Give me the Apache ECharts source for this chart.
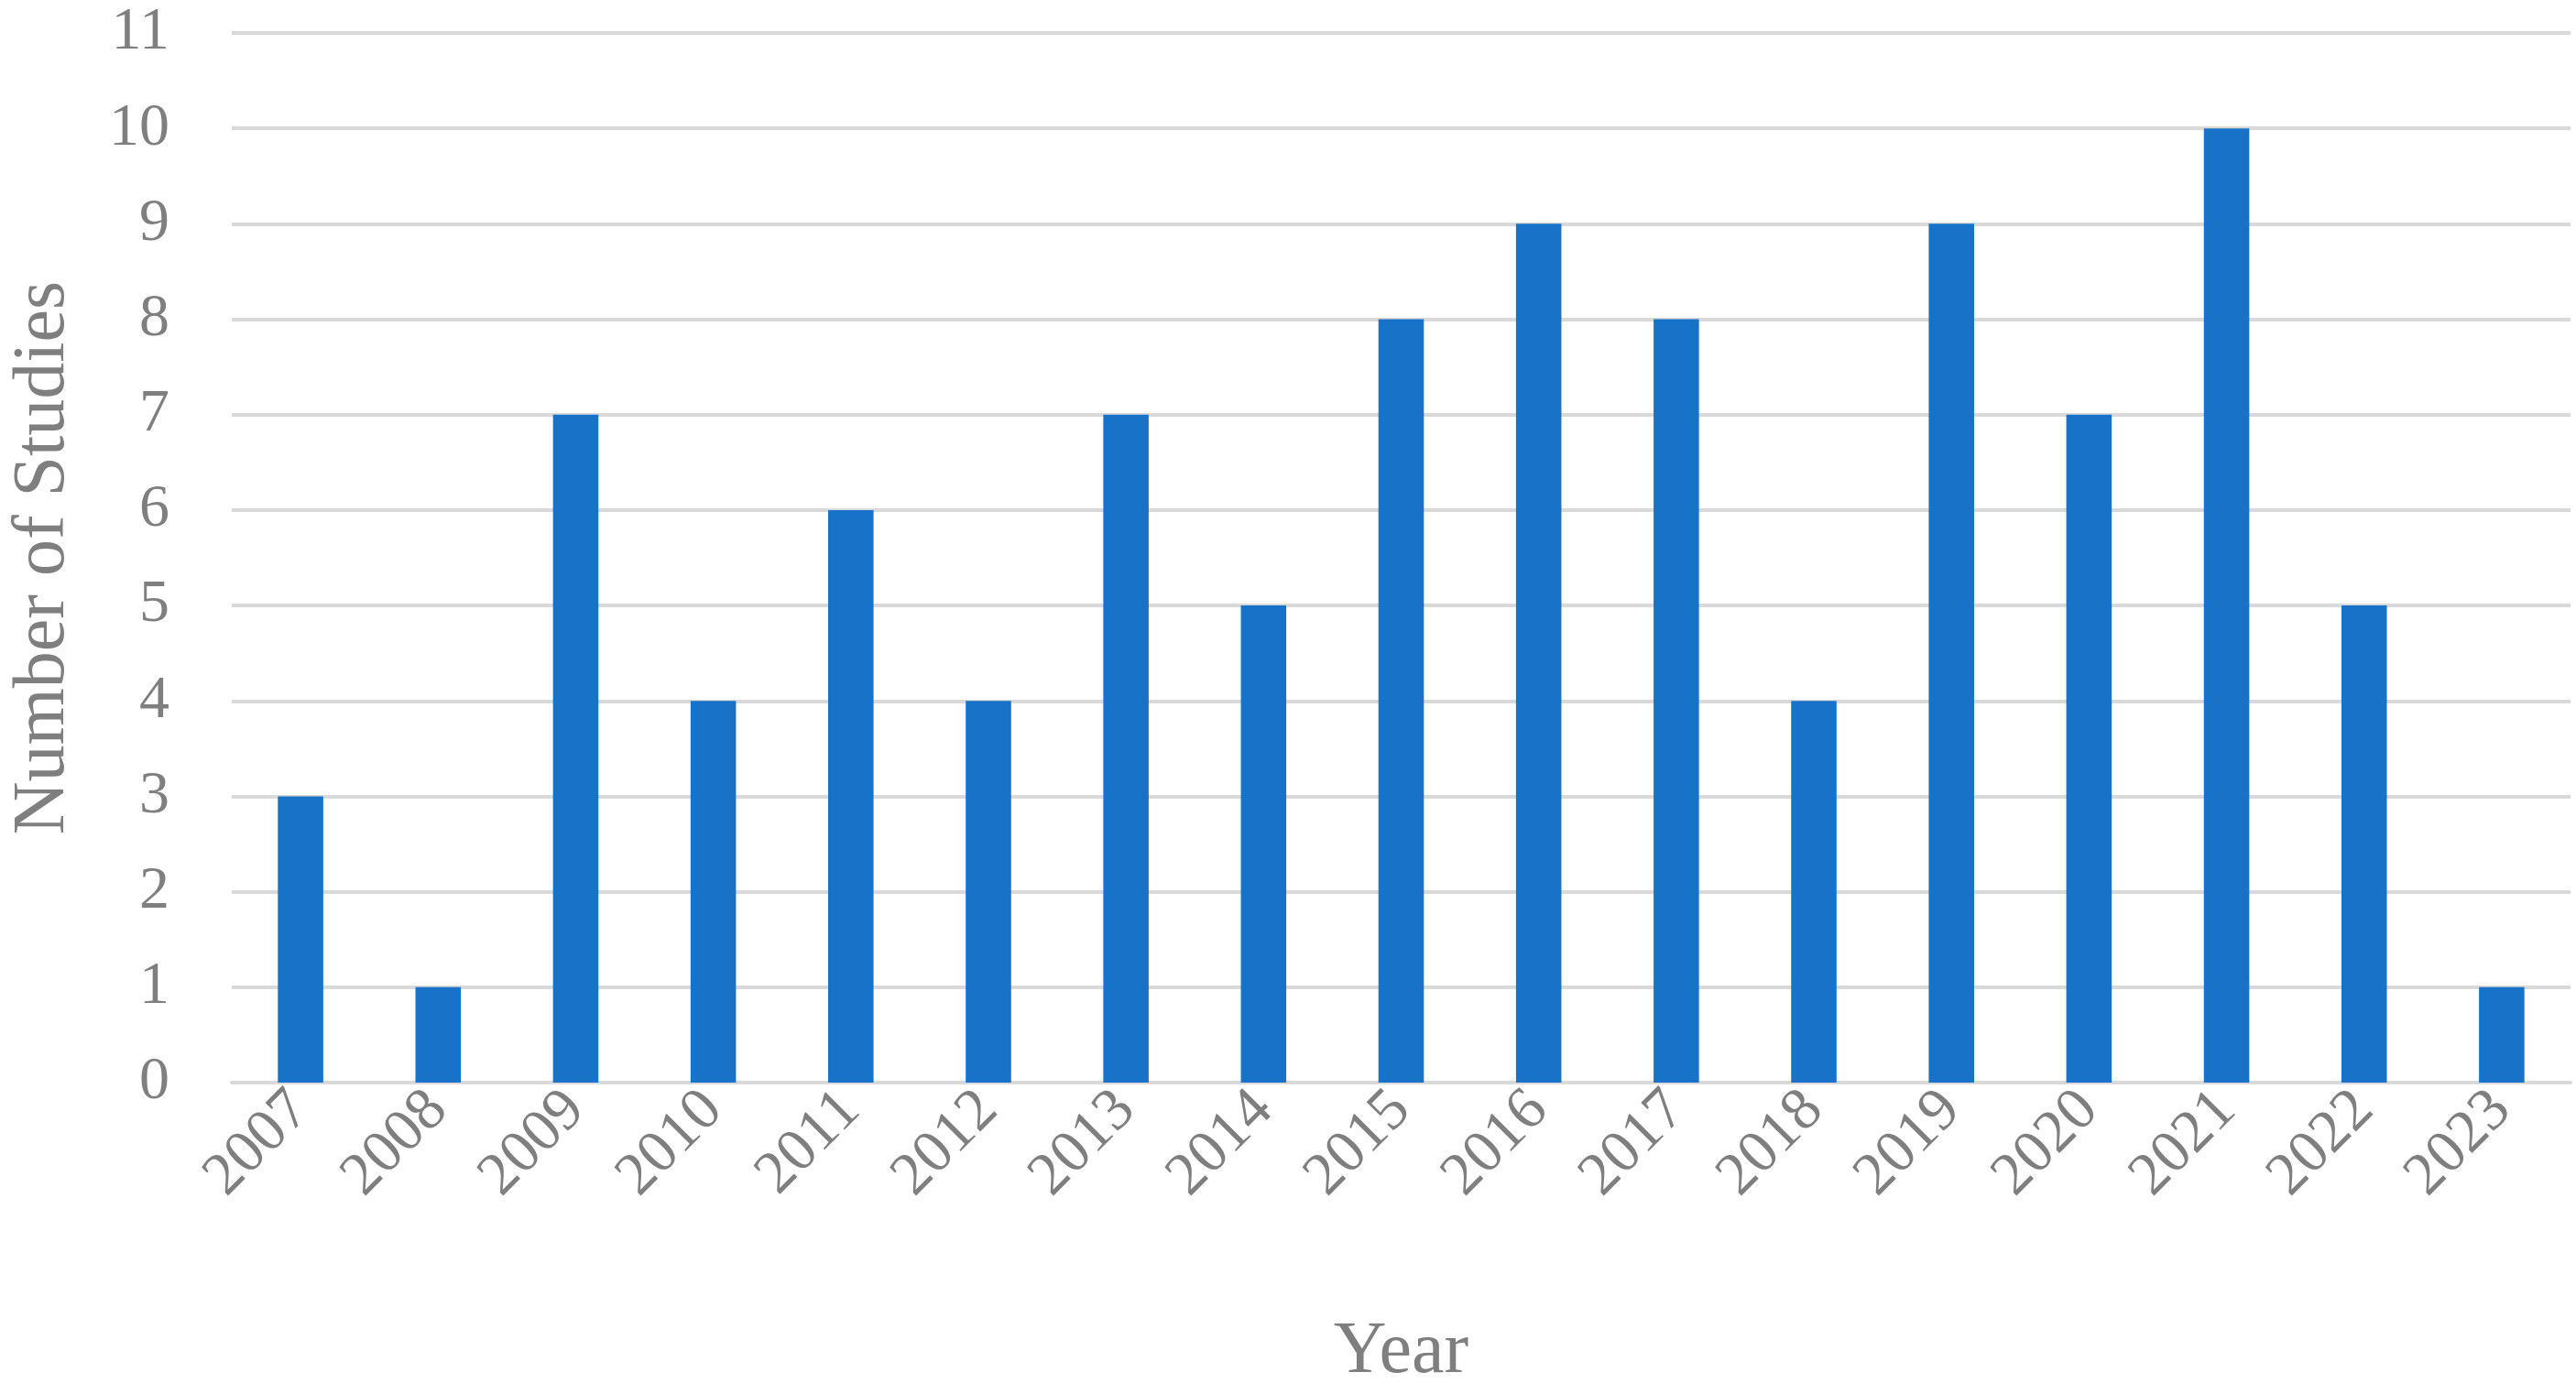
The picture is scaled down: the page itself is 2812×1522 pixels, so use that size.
<!DOCTYPE html>
<html lang="en">
  <head>
    <meta charset="UTF-8" />
    <title>studies per year</title>
    <style>
      html, body { margin: 0; padding: 0; background: #fff; }
      #chart { width: 2812px; height: 1522px; }
    </style>
  </head>
  <body>
    <div id="chart"></div>
    <script src="https://cdn.jsdelivr.net/npm/echarts@6/dist/echarts.min.js"></script>
    <script>
      // data
      const years = ["2007", "2008", "2009", "2010", "2011", "2012", "2013", "2014", "2015",
        "2016", "2017", "2018", "2019", "2020", "2021", "2022", "2023"];
      const studies = [3, 1, 7, 4, 6, 4, 7, 5, 8, 9, 8, 4, 9, 7, 10, 5, 1];

      const font = "'Liberation Serif', 'DejaVu Serif', serif";
      const grey = "#7f7f7f";

      let mchart = echarts.init(document.getElementById("chart"));
      let option = {
        animation: false,
        grid: { left: 226, right: 6, top: 36, bottom: 300 },
        xAxis: {
          type: "category",
          data: years,
          name: "Year",
          nameLocation: "middle",
          nameGap: 255,
          nameTextStyle: { fontFamily: font, fontSize: 80, color: grey },
          axisLine: { lineStyle: { color: "#d9d9d9", width: 4 } },
          axisTick: { show: false },
          axisLabel: { rotate: 45, fontFamily: font, fontSize: 66, color: grey, margin: 20 },
        },
        yAxis: {
          type: "value",
          min: 0,
          max: 11,
          interval: 1,
          name: "Number of Studies",
          nameLocation: "middle",
          nameGap: 165,
          nameTextStyle: { fontFamily: font, fontSize: 80, color: grey },
          axisLine: { show: false },
          axisTick: { show: false },
          axisLabel: { fontFamily: font, fontSize: 66, color: grey, margin: 68 },
          splitLine: { lineStyle: { color: "#d9d9d9", width: 4 } },
        },
        series: [
          {
            type: "bar",
            data: studies,
            barWidth: "33%",
            itemStyle: { color: "#1873c8" },
          },
        ],
      };
      mchart.setOption(option);
    </script>
  </body>
</html>
